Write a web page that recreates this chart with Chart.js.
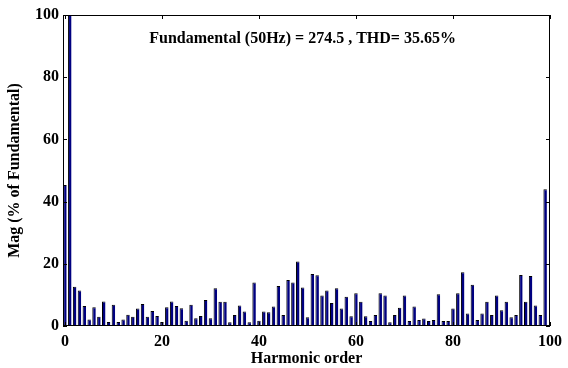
<!doctype html>
<html lang="en">
<head>
<meta charset="utf-8">
<title>Harmonic spectrum</title>
<script src="https://cdn.jsdelivr.net/npm/chart.js@4.4.0/dist/chart.umd.min.js"></script>
<style>
  html, body { margin: 0; padding: 0; background: #fff; }
  #wrap { width: 568px; height: 368px; }
</style>
</head>
<body>
<div id="wrap"><canvas id="fft" width="568" height="368"></canvas></div>
<script>
// harmonic spectrum of the output voltage, in % of the 50 Hz fundamental
const harmonicOrder = [
   0,  1,  2,  3,  4,  5,  6,  7,  8,  9, 10, 11, 12, 13, 14, 15, 16, 17, 18, 19,
  20, 21, 22, 23, 24, 25, 26, 27, 28, 29, 30, 31, 32, 33, 34, 35, 36, 37, 38, 39,
  40, 41, 42, 43, 44, 45, 46, 47, 48, 49, 50, 51, 52, 53, 54, 55, 56, 57, 58, 59,
  60, 61, 62, 63, 64, 65, 66, 67, 68, 69, 70, 71, 72, 73, 74, 75, 76, 77, 78, 79,
  80, 81, 82, 83, 84, 85, 86, 87, 88, 89, 90, 91, 92, 93, 94, 95, 96, 97, 98, 99
];
const magnitude = [
  45.3, 100, 12.6, 11.4, 6.4, 2.1, 6.0, 3.0, 7.9, 1.3,
   6.8, 1.3,  2.1,  3.6, 3.0, 5.6, 7.1, 3.0, 4.8, 3.2,
   1.3, 6.0,  7.9,  6.4, 5.7, 1.7, 6.8, 2.5, 3.2, 8.4,
   2.5, 12.1, 7.8,  7.8, 1.2, 3.5, 6.6, 4.7, 1.2, 14.0,
   1.7, 4.7,  4.4,  6.3, 12.9, 3.5, 14.8, 14.0, 20.7, 12.4,
   2.8, 16.7, 16.3, 9.8, 11.4, 7.4, 12.1, 5.6, 9.4, 3.1,
  10.5, 7.8,  3.1,  1.6, 3.5, 10.5, 9.8, 1.2, 3.5, 5.9,
   9.8, 1.6,  6.3,  1.9, 2.4, 1.6, 1.9, 10.2, 1.6, 1.6,
   5.6, 10.5, 17.3, 4.0, 13.3, 1.9, 4.0, 7.8, 3.5, 9.8,
   5.1, 7.8,  2.8,  3.5, 16.4, 7.8, 16.1, 6.6, 3.5, 44.0
];
const xTicks = [0, 20, 40, 60, 80, 100];
const yTicks = [0, 20, 40, 60, 80, 100];
const summary = 'Fundamental (50Hz) = 274.5 , THD= 35.65%';

const serif = { family: '"Liberation Serif", "Times New Roman", serif', size: 16, weight: 'bold' };

// box around the axes, inward tick marks and the summary line
const axesBox = {
  id: 'axesBox',
  afterDatasetsDraw(chart) {
    const { ctx, chartArea: a, scales: { x, y } } = chart;
    ctx.save();
    ctx.strokeStyle = '#000';
    ctx.lineWidth = 1;
    ctx.strokeRect(a.left + 0.5, a.top + 0.5, a.width - 1, a.height - 1);
    ctx.beginPath();
    xTicks.forEach(v => {
      const px = Math.round(x.getPixelForValue(v)) + 0.5;
      ctx.moveTo(px, a.bottom); ctx.lineTo(px, a.bottom - 4);
      ctx.moveTo(px, a.top); ctx.lineTo(px, a.top + 4);
    });
    yTicks.forEach(v => {
      const py = Math.round(y.getPixelForValue(v)) + 0.5;
      ctx.moveTo(a.left, py); ctx.lineTo(a.left + 4, py);
      ctx.moveTo(a.right, py); ctx.lineTo(a.right - 4, py);
    });
    ctx.stroke();
    ctx.fillStyle = '#000';
    ctx.font = 'bold 16px ' + serif.family;
    ctx.textAlign = 'center';
    ctx.textBaseline = 'middle';
    ctx.fillText(summary, x.getPixelForValue(49), y.getPixelForValue(92.3));
    ctx.restore();
  }
};

new Chart(document.getElementById('fft'), {
  type: 'bar',
  data: {
    datasets: [{
      data: harmonicOrder.map((h, i) => ({ x: h, y: magnitude[i] })),
      backgroundColor: '#000080',
      borderColor: '#000000',
      borderWidth: { left: 1, right: 0, top: 1, bottom: 0 },
      categoryPercentage: 0.8,
      barPercentage: 0.9
    }]
  },
  options: {
    responsive: false,
    devicePixelRatio: 1,
    animation: false,
    layout: { padding: { top: 15, right: 14, left: 0, bottom: 0 } },
    plugins: { legend: { display: false }, tooltip: { enabled: false } },
    scales: {
      x: {
        type: 'linear',
        offset: false,
        min: -0.4,
        max: 100,
        afterBuildTicks: s => { s.ticks = xTicks.map(v => ({ value: v })); },
        afterFit: s => { s.height = 42; },
        grid: { display: false, drawTicks: false },
        border: { display: false },
        ticks: { color: '#000', font: serif, padding: 6, maxRotation: 0, autoSkip: false },
        title: { display: true, text: 'Harmonic order', color: '#000', font: serif, padding: { top: 0, bottom: 0 } }
      },
      y: {
        min: 0,
        max: 100,
        afterBuildTicks: s => { s.ticks = yTicks.map(v => ({ value: v })); },
        afterFit: s => { s.width = 63; },
        grid: { display: false, drawTicks: false },
        border: { display: false },
        ticks: { color: '#000', font: serif, padding: 4 },
        title: { display: true, text: 'Mag (% of Fundamental)', color: '#000', font: serif, padding: { top: 5, bottom: 0 } }
      }
    }
  },
  plugins: [axesBox]
});
</script>
</body>
</html>
